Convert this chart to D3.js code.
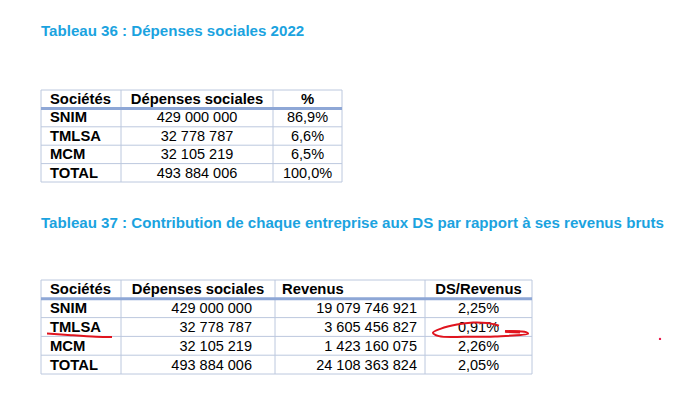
<!DOCTYPE html>
<html>
<head>
<meta charset="utf-8">
<script src="https://cdn.jsdelivr.net/npm/d3@7"></script>
<style>
  body { margin: 0; background: #fff; }
  text { font-family: "Liberation Sans", Arial, sans-serif; }
  .title { fill: #1ba3df; font-weight: bold; font-size: 15.1px; }
  .cell { fill: #000; font-size: 14.5px; }
  .bold { font-weight: bold; font-size: 14.8px; }
</style>
</head>
<body>
<div id="chart"></div>
<script>
const societes = ['SNIM', 'TMLSA', 'MCM', 'TOTAL'];
const depenses = [429000000, 32778787, 32105219, 493884006];
const parts = [86.9, 6.6, 6.5, 100.0];
const revenus = [19079746921, 3605456827, 1423160075, 24108363824];
const dsRevenus = [2.25, 0.91, 2.26, 2.05];

const titre36 = 'Tableau 36 : Dépenses sociales 2022';
const titre37 = 'Tableau 37 : Contribution de chaque entreprise aux DS par rapport à ses revenus bruts';
const entetes36 = ['Sociétés', 'Dépenses sociales', '%'];
const entetes37 = ['Sociétés', 'Dépenses sociales', 'Revenus', 'DS/Revenus'];

let svgWidth = 689;
let svgHeight = 409;

let svg = d3.select('#chart').append('svg')
  .attr('width', svgWidth)
  .attr('height', svgHeight);

// french number format : space thousands, comma decimal
let fr = d3.formatLocale({decimal: ',', thousands: ' ', grouping: [3], currency: ['', '']});
let fmtInt = fr.format(',d');
let fmtPct1 = v => fr.format('.1f')(v) + '%';
let fmtPct2 = v => fr.format('.2f')(v) + '%';

let thinColor = '#bcc8de';
let headColor = '#8ea7d6';

// draw one table: cols = [{head, headAlign, headPad, align, pad, values, bold}]
function drawTable(top, bottom, edges, cols) {
  let g = svg.append('g');
  let rows = ['head'].concat(societes);
  let y = d3.scaleBand().domain(rows).range([top, bottom]);

  // horizontal lines between rows
  societes.slice(1).forEach(r => {
    g.append('line')
      .attr('x1', edges[0]).attr('x2', edges[edges.length - 1])
      .attr('y1', y(r)).attr('y2', y(r))
      .attr('stroke', thinColor).attr('stroke-width', 1);
  });

  // vertical lines and outer frame
  edges.forEach(e => {
    g.append('line')
      .attr('x1', e).attr('x2', e)
      .attr('y1', top).attr('y2', bottom)
      .attr('stroke', thinColor).attr('stroke-width', 1);
  });
  [top, bottom].forEach(v => {
    g.append('line')
      .attr('x1', edges[0]).attr('x2', edges[edges.length - 1])
      .attr('y1', v).attr('y2', v)
      .attr('stroke', thinColor);
  });

  // thick line under header
  g.append('line')
    .attr('x1', edges[0]).attr('x2', edges[edges.length - 1])
    .attr('y1', y(societes[0])).attr('y2', y(societes[0]))
    .attr('stroke', headColor).attr('stroke-width', 3);

  function anchorX(i, align, pad) {
    if (align === 'start') return edges[i] + pad;
    if (align === 'end') return edges[i + 1] - pad;
    return (edges[i] + edges[i + 1]) / 2;
  }

  cols.forEach((c, i) => {
    g.append('text')
      .attr('class', 'cell bold')
      .attr('x', anchorX(i, c.headAlign, c.headPad))
      .attr('y', y('head') + y.bandwidth() - 4.5)
      .attr('text-anchor', c.headAlign)
      .text(c.head);

    g.selectAll(null)
      .data(c.values)
      .enter()
      .append('text')
      .attr('class', c.bold ? 'cell bold' : 'cell')
      .attr('x', anchorX(i, c.align, c.pad))
      .attr('y', (d, k) => y(societes[k]) + y.bandwidth() - 4.5)
      .attr('text-anchor', c.align)
      .text(d => d);
  });

  return {y: y};
}

// titles
svg.append('text').attr('class', 'title').attr('x', 41).attr('y', 36).text(titre36);
svg.append('text').attr('class', 'title').attr('x', 41).attr('y', 228).text(titre37);

// tableau 36
drawTable(90, 182, [41, 121, 273, 342], [
  {head: entetes36[0], headAlign: 'start', headPad: 9, align: 'start', pad: 9, bold: true, values: societes},
  {head: entetes36[1], headAlign: 'middle', align: 'middle', values: depenses.map(fmtInt)},
  {head: entetes36[2], headAlign: 'middle', align: 'middle', values: parts.map(fmtPct1)}
]);

// tableau 37
let edges37 = [41, 121, 275, 425, 532];
let t37 = drawTable(280, 374, edges37, [
  {head: entetes37[0], headAlign: 'start', headPad: 9, align: 'start', pad: 9, bold: true, values: societes},
  {head: entetes37[1], headAlign: 'middle', align: 'end', pad: 23, values: depenses.map(fmtInt)},
  {head: entetes37[2], headAlign: 'start', headPad: 7, align: 'end', pad: 8, values: revenus.map(fmtInt)},
  {head: entetes37[3], headAlign: 'middle', align: 'middle', values: dsRevenus.map(fmtPct2)}
]);

// red hand annotations on the TMLSA row
let yb = t37.y;
let r0 = yb('TMLSA'), rh = yb.bandwidth();
let red = '#e0141e';
let pen = d3.line().curve(d3.curveCatmullRom);

// underline below TMLSA
svg.append('path')
  .attr('d', pen([[edges37[0] + 6, r0 + rh - 3], [edges37[0] + 30, r0 + rh - 1.2],
                  [edges37[0] + 55, r0 + rh + 0.3], [edges37[1] - 9, r0 + rh + 0.6]]))
  .attr('fill', 'none').attr('stroke', red).attr('stroke-width', 2);

// loop around 0,91%
let cx0 = edges37[3], cx1 = edges37[4];
svg.append('path')
  .attr('d', pen([[cx0 + 74, r0 + 8], [cx0 + 62, r0 + 5.5], [cx0 + 48, r0 + 5], [cx0 + 32, r0 + 7],
                  [cx0 + 16, r0 + 11], [cx0 + 8, r0 + 15], [cx0 + 14, r0 + 18.5],
                  [cx0 + 40, r0 + 19.2], [cx0 + 70, r0 + 18.8], [cx1 - 4, r0 + 16],
                  [cx1 - 6, r0 + 14.5], [cx1 - 26, r0 + 13.8]]))
  .attr('fill', 'none').attr('stroke', red).attr('stroke-width', 2);
svg.append('line')
  .attr('x1', cx0 + 80).attr('x2', cx0 + 95)
  .attr('y1', r0 + 13.8).attr('y2', r0 + 14.4)
  .attr('stroke', red).attr('stroke-width', 2.8);

// stray red dot
svg.append('circle')
  .attr('cx', 660).attr('cy', yb('TMLSA') + rh + 2.5)
  .attr('r', 1.2).attr('fill', '#e8194a');
</script>
</body>
</html>
